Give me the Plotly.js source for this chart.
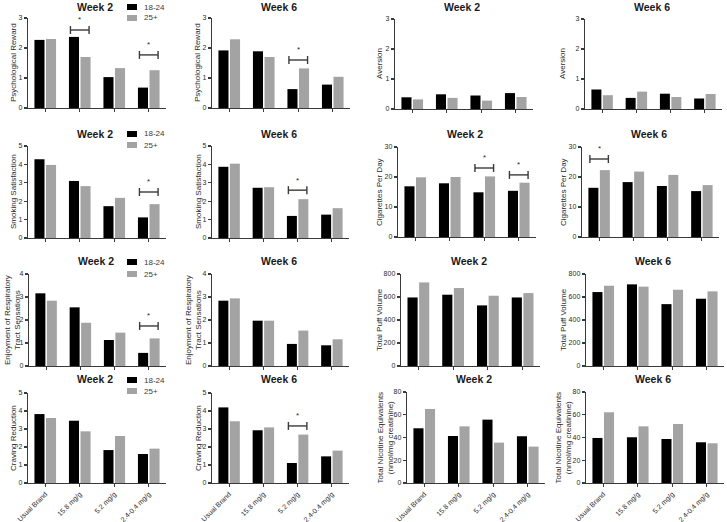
<!DOCTYPE html>
<html>
<head>
<meta charset="utf-8">
<script src="https://cdn.plot.ly/plotly-3.0.1.min.js"></script>
<style>
html,body{margin:0;padding:0;background:#fff;}
#chart{width:727px;height:522px;}
</style>
</head>
<body>
<div id="chart"></div>
<script>
// ---------- DATA ----------
const categories = ['Usual Brand', '15.8 mg/g', '5.2 mg/g', '2.4-0.4 mg/g'];
const groupNames = ['18-24', '25+'];
const weekTitles = ['Week 2', 'Week 6'];
const measureTitles = [
  'Psychological Reward',
  'Aversion',
  'Smoking Satisfaction',
  'Cigarettes Per Day',
  'Enjoyment of Respiratory<br>Tract Sensations',
  'Total Puff Volume',
  'Craving Reduction',
  'Total Nicotine Equivalents<br>(nmol/mg creatinine)'
];

const psychRewardW2Young = [2.27, 2.37, 1.03, 0.68];
const psychRewardW2Older = [2.30, 1.70, 1.33, 1.26];
const psychRewardW6Young = [1.92, 1.89, 0.63, 0.78];
const psychRewardW6Older = [2.29, 1.70, 1.32, 1.04];

const aversionW2Young = [0.39, 0.49, 0.45, 0.53];
const aversionW2Older = [0.32, 0.37, 0.28, 0.40];
const aversionW6Young = [0.65, 0.37, 0.51, 0.35];
const aversionW6Older = [0.46, 0.58, 0.40, 0.50];

const satisfactionW2Young = [4.28, 3.10, 1.73, 1.12];
const satisfactionW2Older = [3.97, 2.82, 2.18, 1.84];
const satisfactionW6Young = [3.87, 2.73, 1.20, 1.27];
const satisfactionW6Older = [4.04, 2.76, 2.11, 1.62];

const cigsPerDayW2Young = [16.9, 17.9, 14.9, 15.4];
const cigsPerDayW2Older = [19.9, 20.0, 20.2, 18.1];
const cigsPerDayW6Young = [16.4, 18.3, 17.0, 15.3];
const cigsPerDayW6Older = [22.3, 21.8, 20.7, 17.3];

const enjoymentW2Young = [3.16, 2.55, 1.13, 0.57];
const enjoymentW2Older = [2.84, 1.88, 1.45, 1.20];
const enjoymentW6Young = [2.84, 1.97, 0.96, 0.90];
const enjoymentW6Older = [2.94, 1.97, 1.54, 1.16];

const puffVolumeW2Young = [596, 620, 527, 596];
const puffVolumeW2Older = [727, 678, 611, 634];
const puffVolumeW6Young = [643, 710, 538, 585];
const puffVolumeW6Older = [698, 690, 663, 649];

const cravingW2Young = [3.83, 3.46, 1.83, 1.61];
const cravingW2Older = [3.61, 2.87, 2.61, 1.91];
const cravingW6Young = [4.20, 2.93, 1.11, 1.48];
const cravingW6Older = [3.43, 3.09, 2.69, 1.80];

const tneW2Young = [48.1, 41.3, 55.7, 41.1];
const tneW2Older = [65.1, 49.8, 35.5, 32.0];
const tneW6Young = [39.6, 40.2, 38.7, 35.8];
const tneW6Older = [62.2, 49.8, 51.9, 34.9];

// y-axis scale per panel (row by row, left to right)
const yAxisMax  = [3, 3, 3, 3,   5, 5, 30, 30,   4, 4, 800, 800,   5, 5, 80, 80];
const yAxisStep = [1, 1, 1, 1,   1, 1, 10, 10,   1, 1, 200, 200,   1, 1, 20, 20];

// significance brackets: [panel index, category index, bracket level (data units)]
const sigBrackets = [
  [0, 1, 2.6], [0, 3, 1.77], [1, 2, 1.6],
  [4, 3, 2.5], [5, 2, 2.6], [6, 2, 23], [6, 3, 20.7], [7, 0, 26],
  [8, 3, 1.74],
  [13, 2, 3.17]
];

// ---------- STYLE / LAYOUT ----------
const W = 727, H = 522;
const FONT = 'Liberation Sans, Arial, Helvetica, sans-serif';
const colors = ['#000000', '#a3a3a3'];
const axisColor = '#3a3a3a';
const textColor = '#2a2a2a';

// panel boxes in px: [left, right, top, bottom]
const panelBoxes = [
  [28, 166, 18, 108], [212, 350, 18, 108], [395, 533, 19, 109], [585, 722, 19, 109],
  [28, 166, 146, 238], [212, 349, 146, 238], [398, 536, 147, 237], [582, 719, 147, 237],
  [29, 166, 274, 366], [212, 349, 274, 366], [401, 540, 274, 366], [586, 724, 274, 366],
  [28, 166, 393, 483], [212, 349, 393, 483], [407, 545, 392, 483], [586, 724, 392, 483]
];
// y-title center x (px)
const yTitleX = [13, 197, 379, 562, 13, 198, 379, 563, 12, 193, 379, 563, 13, 198, 385, 563];
const titleY = [7, 134, 261, 379];
const legendY = [[7, 18], [134, 145], [262, 274], [380, 391]];

const panelSeries = [
  [psychRewardW2Young, psychRewardW2Older], [psychRewardW6Young, psychRewardW6Older],
  [aversionW2Young, aversionW2Older], [aversionW6Young, aversionW6Older],
  [satisfactionW2Young, satisfactionW2Older], [satisfactionW6Young, satisfactionW6Older],
  [cigsPerDayW2Young, cigsPerDayW2Older], [cigsPerDayW6Young, cigsPerDayW6Older],
  [enjoymentW2Young, enjoymentW2Older], [enjoymentW6Young, enjoymentW6Older],
  [puffVolumeW2Young, puffVolumeW2Older], [puffVolumeW6Young, puffVolumeW6Older],
  [cravingW2Young, cravingW2Older], [cravingW6Young, cravingW6Older],
  [tneW2Young, tneW2Older], [tneW6Young, tneW6Older]
];

const px = x => x / W;
const py = y => 1 - y / H;

const traces = [];
const layout = {
  width: W, height: H,
  margin: {l: 0, r: 0, t: 0, b: 0},
  paper_bgcolor: '#ffffff', plot_bgcolor: '#ffffff',
  barmode: 'group', bargap: 0.33, bargroupgap: 0.13,
  showlegend: false,
  font: {family: FONT, color: textColor},
  annotations: [], shapes: []
};

panelSeries.forEach((series, p) => {
  const row = Math.floor(p / 4), col = p % 4;
  const xName = p === 0 ? 'x' : 'x' + (p + 1);
  const yName = p === 0 ? 'y' : 'y' + (p + 1);
  const xKey = p === 0 ? 'xaxis' : 'xaxis' + (p + 1);
  const yKey = p === 0 ? 'yaxis' : 'yaxis' + (p + 1);
  const box = panelBoxes[p];

  series.forEach((vals, g) => {
    traces.push({
      type: 'bar', x: categories, y: vals, name: groupNames[g],
      xaxis: xName, yaxis: yName,
      marker: {color: colors[g], line: {width: 0}},
      hoverinfo: 'x+y+name'
    });
  });

  layout[xKey] = {
    domain: [px(box[0]), px(box[1])], anchor: yName,
    type: 'category', categoryorder: 'array', categoryarray: categories,
    range: [-0.5, 3.5], fixedrange: true,
    showline: true, linecolor: axisColor, linewidth: 1.3,
    ticks: 'outside', ticklen: 3, tickwidth: 1.1, tickcolor: axisColor,
    showgrid: false, zeroline: false,
    showticklabels: row === 3, tickangle: -45,
    tickfont: {size: 7, color: textColor, family: FONT}
  };
  layout[yKey] = {
    domain: [py(box[3]), py(box[2])], anchor: xName,
    range: [0, yAxisMax[p]], dtick: yAxisStep[p], tick0: 0, fixedrange: true,
    showline: true, linecolor: axisColor, linewidth: 1.3,
    ticks: 'outside', ticklen: 3, tickwidth: 1.1, tickcolor: axisColor,
    showgrid: false, zeroline: false,
    tickfont: {size: 7, color: textColor, family: FONT}
  };

  // panel title
  layout.annotations.push({
    xref: 'paper', yref: 'paper', x: px((box[0] + box[1]) / 2 - 2), y: py(titleY[row]),
    xanchor: 'center', yanchor: 'middle', showarrow: false,
    text: '<b>' + weekTitles[col % 2] + '</b>',
    font: {size: 10.5, color: '#1a1a1a', family: FONT}
  });
  // y-axis title
  layout.annotations.push({
    xref: 'paper', yref: 'paper', x: px(yTitleX[p]), y: py((box[2] + box[3]) / 2),
    xanchor: 'center', yanchor: 'middle', showarrow: false, textangle: -90,
    text: measureTitles[row * 2 + (col >= 2 ? 1 : 0)],
    font: {size: 8, color: textColor, family: FONT}
  });
});

// significance brackets
sigBrackets.forEach(([p, c, lvl]) => {
  const xr = p === 0 ? 'x' : 'x' + (p + 1);
  const yr = p === 0 ? 'y' : 'y' + (p + 1);
  const half = 0.27;
  const ln = {color: axisColor, width: 1.4};
  layout.shapes.push({type: 'line', xref: xr, yref: yr, x0: c - half, x1: c + half, y0: lvl, y1: lvl, line: ln});
  [c - half, c + half].forEach(xx => {
    layout.shapes.push({type: 'line', xref: xr, yref: yr, x0: xx, x1: xx,
      ysizemode: 'pixel', yanchor: lvl, y0: -4, y1: 4, line: ln});
  });
  layout.annotations.push({xref: xr, yref: yr, x: c, y: lvl, yshift: 10, text: '*',
    showarrow: false, font: {size: 8, color: textColor, family: FONT}});
});

// legends (one per row, beside the first panel)
legendY.forEach(pair => {
  pair.forEach((yy, g) => {
    layout.shapes.push({type: 'rect', xref: 'paper', yref: 'paper',
      x0: px(127), x1: px(137), y0: py(yy + 3), y1: py(yy - 3),
      fillcolor: colors[g], line: {width: 0}});
    layout.annotations.push({xref: 'paper', yref: 'paper', x: px(142), y: py(yy),
      xanchor: 'left', yanchor: 'middle', showarrow: false, text: groupNames[g],
      font: {size: 8, color: '#3a3a3a', family: FONT}});
  });
});

Plotly.newPlot('chart', traces, layout, {displayModeBar: false, staticPlot: true});
</script>
</body>
</html>
